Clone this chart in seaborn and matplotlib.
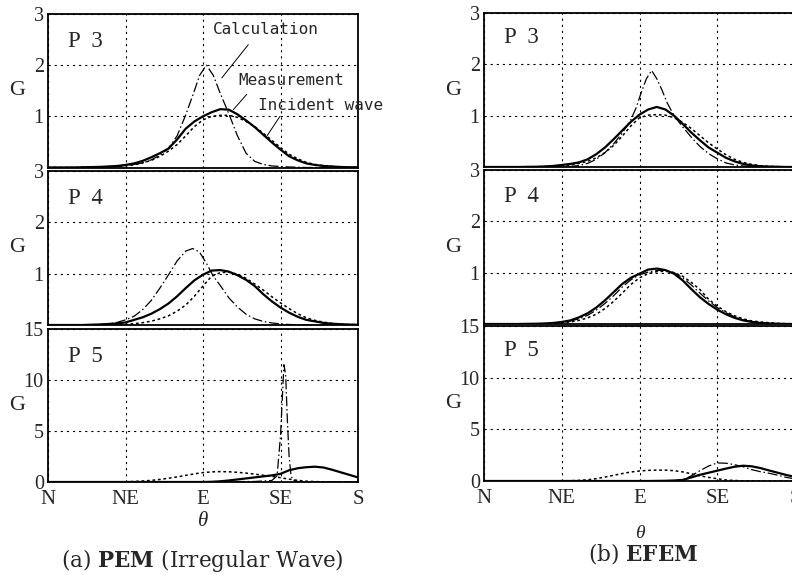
import numpy as np
import pandas as pd
import matplotlib
matplotlib.use("Agg")
import matplotlib.pyplot as plt
import seaborn as sns

sns.set_style("white")
plt.rcParams['font.family'] = ['Liberation Serif', 'DejaVu Serif']
plt.rcParams['mathtext.fontset'] = 'custom'
plt.rcParams['mathtext.rm'] = 'DejaVu Serif'
plt.rcParams['mathtext.bf'] = 'DejaVu Serif:bold'
plt.rcParams['mathtext.it'] = 'DejaVu Serif:italic'

# ---------------- data: (direction in degrees N=0..S=180, G) ----------------
dir_ticks = [0, 45, 90, 135, 180]
dir_labels = ["N", "NE", "E", "SE", "S"]

# (a) PEM, P3
calc_p3a = [(0, 0), (30, 0.005), (40, 0.02), (50, 0.06), (55, 0.09), (60, 0.15), (65, 0.24), (70, 0.38),
            (75, 0.62), (80, 1.03), (85, 1.5), (88, 1.8), (92, 2.0), (96, 1.8), (100, 1.45), (105, 1.05),
            (110, 0.62), (115, 0.28), (120, 0.12), (125, 0.06), (130, 0.03), (140, 0.01), (150, 0), (180, 0)]
meas_p3a = [(0, 0), (15, 0), (20, 0.005), (25, 0.008), (30, 0.012), (35, 0.02), (40, 0.03), (45, 0.05),
            (50, 0.08), (55, 0.13), (60, 0.2), (65, 0.28), (70, 0.37), (75, 0.55), (80, 0.76), (85, 0.9),
            (90, 1.0), (95, 1.08), (100, 1.14), (105, 1.13), (110, 1.04), (115, 0.92), (120, 0.79),
            (125, 0.64), (130, 0.49), (135, 0.35), (140, 0.22), (145, 0.14), (150, 0.08), (155, 0.05),
            (160, 0.03), (165, 0.02), (170, 0.01), (175, 0.005), (180, 0.005)]
inc_p3a = [(0, 0), (20, 0), (25, 0.005), (30, 0.01), (35, 0.015), (40, 0.02), (45, 0.035), (50, 0.05),
           (55, 0.09), (60, 0.14), (65, 0.22), (70, 0.32), (75, 0.45), (80, 0.62), (85, 0.8), (90, 0.93),
           (95, 1.0), (100, 1.02), (105, 1.02), (110, 0.98), (115, 0.9), (120, 0.8), (125, 0.67),
           (130, 0.53), (135, 0.39), (140, 0.26), (145, 0.17), (150, 0.1), (155, 0.06), (160, 0.035),
           (165, 0.02), (170, 0.01), (175, 0.005), (180, 0.003)]

# (a) PEM, P4
calc_p4a = [(0, 0), (30, 0.01), (35, 0.02), (40, 0.05), (45, 0.1), (50, 0.17), (55, 0.3), (60, 0.48),
            (65, 0.72), (70, 0.98), (75, 1.25), (80, 1.44), (84, 1.49), (88, 1.42), (92, 1.2), (96, 0.95),
            (100, 0.77), (105, 0.53), (110, 0.35), (115, 0.21), (120, 0.12), (125, 0.07), (130, 0.04),
            (135, 0.02), (140, 0.01), (150, 0), (180, 0)]
meas_p4a = [(0, 0), (20, 0), (25, 0.005), (30, 0.01), (35, 0.02), (40, 0.03), (45, 0.05), (50, 0.1),
            (55, 0.15), (60, 0.22), (65, 0.31), (70, 0.42), (75, 0.56), (80, 0.72), (85, 0.87), (90, 0.98),
            (95, 1.06), (100, 1.07), (105, 1.04), (110, 0.97), (115, 0.88), (120, 0.76), (125, 0.6),
            (130, 0.46), (135, 0.34), (140, 0.24), (145, 0.16), (150, 0.1), (155, 0.07), (160, 0.04),
            (165, 0.025), (170, 0.015), (175, 0.008), (180, 0.005)]
inc_p4a = [(0, 0), (35, 0), (40, 0.005), (45, 0.01), (50, 0.025), (55, 0.045), (60, 0.075), (65, 0.12),
           (70, 0.18), (75, 0.27), (80, 0.39), (85, 0.56), (90, 0.76), (95, 0.95), (100, 1.02), (105, 1.03),
           (110, 0.99), (115, 0.91), (120, 0.8), (125, 0.68), (130, 0.55), (135, 0.43), (140, 0.32),
           (145, 0.22), (150, 0.14), (155, 0.09), (160, 0.055), (165, 0.03), (170, 0.015), (175, 0.008),
           (180, 0.005)]

# (a) PEM, P5
calc_p5a = [(0, 0), (90, 0.02), (120, 0.05), (130, 0.15), (133, 0.6), (135, 4.5), (137, 11.5), (138, 10.5),
            (139, 6.0), (140, 2.5), (141, 0.8), (142, 0.2), (145, 0.05), (150, 0), (180, 0)]
meas_p5a = [(0, 0), (90, 0), (95, 0.02), (100, 0.07), (105, 0.15), (110, 0.25), (115, 0.35), (120, 0.45),
            (125, 0.55), (130, 0.65), (135, 0.8), (140, 1.15), (145, 1.35), (150, 1.45), (155, 1.5),
            (160, 1.42), (165, 1.2), (170, 0.95), (175, 0.7), (180, 0.45)]
inc_p5a = [(0, 0), (40, 0), (45, 0.02), (50, 0.05), (55, 0.1), (60, 0.16), (65, 0.25), (70, 0.37), (75, 0.5),
           (80, 0.65), (85, 0.8), (90, 0.92), (95, 0.99), (100, 1.02), (105, 1.0), (110, 0.95), (115, 0.87),
           (120, 0.77), (125, 0.66), (130, 0.55), (135, 0.42), (140, 0.28), (145, 0.16), (150, 0.08),
           (155, 0.04), (160, 0.02), (165, 0.01), (170, 0.005), (175, 0), (180, 0)]

# (b) EFEM, P3
calc_p3b = [(0, 0), (45, 0.005), (50, 0.01), (55, 0.03), (60, 0.07), (65, 0.15), (70, 0.28), (75, 0.45),
            (80, 0.66), (85, 0.92), (88, 1.15), (91, 1.45), (94, 1.72), (97, 1.88), (100, 1.72), (103, 1.5),
            (106, 1.25), (110, 1.0), (115, 0.78), (120, 0.58), (125, 0.4), (130, 0.26), (135, 0.16),
            (140, 0.08), (145, 0.04), (150, 0.02), (160, 0), (180, 0)]
meas_p3b = [(0, 0), (20, 0), (25, 0.003), (30, 0.005), (35, 0.01), (40, 0.02), (45, 0.04), (50, 0.06),
            (55, 0.09), (60, 0.15), (65, 0.25), (70, 0.38), (75, 0.54), (80, 0.71), (85, 0.88), (90, 1.02),
            (95, 1.12), (100, 1.17), (105, 1.12), (110, 1.0), (115, 0.84), (120, 0.67), (125, 0.52),
            (130, 0.38), (135, 0.28), (140, 0.18), (145, 0.11), (150, 0.06), (155, 0.03), (160, 0.015),
            (165, 0.008), (170, 0.005), (175, 0), (180, 0)]
inc_p3b = [(0, 0), (25, 0), (30, 0.005), (35, 0.01), (40, 0.015), (45, 0.025), (50, 0.04), (55, 0.07),
           (60, 0.11), (65, 0.18), (70, 0.28), (75, 0.42), (80, 0.6), (85, 0.8), (90, 0.96), (95, 1.01),
           (100, 1.02), (105, 1.01), (110, 0.96), (115, 0.87), (120, 0.75), (125, 0.61), (130, 0.47),
           (135, 0.35), (140, 0.24), (145, 0.15), (150, 0.09), (155, 0.05), (160, 0.025), (165, 0.012),
           (170, 0.006), (175, 0), (180, 0)]

# (b) EFEM, P4
calc_p4b = [(0, 0), (25, 0), (30, 0.003), (35, 0.008), (40, 0.015), (45, 0.03), (50, 0.06), (55, 0.1),
            (60, 0.17), (65, 0.27), (70, 0.4), (75, 0.55), (80, 0.72), (85, 0.86), (90, 0.96), (95, 1.01),
            (100, 1.04), (105, 1.05), (110, 1.0), (115, 0.9), (120, 0.76), (125, 0.6), (130, 0.45),
            (135, 0.32), (140, 0.22), (145, 0.14), (150, 0.08), (155, 0.045), (160, 0.025), (165, 0.012),
            (170, 0.006), (175, 0), (180, 0)]
meas_p4b = [(0, 0), (20, 0), (25, 0.003), (30, 0.005), (35, 0.01), (40, 0.02), (45, 0.04), (50, 0.07),
            (55, 0.13), (60, 0.21), (65, 0.32), (70, 0.46), (75, 0.62), (80, 0.78), (85, 0.9), (90, 0.98),
            (95, 1.06), (100, 1.08), (105, 1.05), (110, 0.98), (115, 0.85), (120, 0.68), (125, 0.52),
            (130, 0.39), (135, 0.28), (140, 0.19), (145, 0.12), (150, 0.07), (155, 0.04), (160, 0.02),
            (165, 0.01), (170, 0.005), (175, 0), (180, 0)]
inc_p4b = [(0, 0), (30, 0), (35, 0.005), (40, 0.01), (45, 0.02), (50, 0.04), (55, 0.07), (60, 0.12),
           (65, 0.19), (70, 0.3), (75, 0.44), (80, 0.6), (85, 0.77), (90, 0.9), (95, 0.98), (100, 1.02),
           (105, 1.03), (110, 1.0), (115, 0.93), (120, 0.81), (125, 0.67), (130, 0.48), (135, 0.35),
           (140, 0.24), (145, 0.16), (150, 0.1), (155, 0.06), (160, 0.04), (165, 0.025), (170, 0.012),
           (175, 0.006), (180, 0.004)]

# (b) EFEM, P5
calc_p5b = [(0, 0), (105, 0), (110, 0.02), (115, 0.1), (120, 0.5), (125, 1.0), (130, 1.45), (135, 1.75),
            (140, 1.72), (145, 1.58), (150, 1.38), (155, 1.1), (160, 0.9), (165, 0.75), (170, 0.56),
            (175, 0.35), (180, 0.2)]
meas_p5b = [(0, 0), (95, 0), (100, 0.01), (105, 0.02), (110, 0.05), (115, 0.1), (120, 0.35), (125, 0.6),
            (130, 0.8), (135, 1.0), (140, 1.2), (145, 1.38), (150, 1.48), (155, 1.42), (160, 1.25),
            (165, 1.02), (170, 0.8), (175, 0.58), (180, 0.4)]
inc_p5b = [(0, 0), (40, 0), (45, 0.01), (50, 0.03), (55, 0.06), (60, 0.12), (65, 0.23), (70, 0.38), (75, 0.55),
           (80, 0.72), (85, 0.87), (90, 0.97), (95, 1.03), (100, 1.05), (105, 1.05), (110, 1.0), (115, 0.88),
           (120, 0.7), (125, 0.5), (130, 0.35), (135, 0.22), (140, 0.1), (145, 0.05), (150, 0.02),
           (155, 0.01), (160, 0), (180, 0)]

panel_names = ["P  3", "P  4", "P  5"]
ylims = [3, 3, 15]
yticks_list = [[1, 2, 3], [1, 2, 3], [0, 5, 10, 15]]
captions = ["(a) $\\mathbf{PEM}$ (Irregular Wave)", "(b) $\\mathbf{EFEM}$"]

columns = [
    [(calc_p3a, meas_p3a, inc_p3a), (calc_p4a, meas_p4a, inc_p4a), (calc_p5a, meas_p5a, inc_p5a)],
    [(calc_p3b, meas_p3b, inc_p3b), (calc_p4b, meas_p4b, inc_p4b), (calc_p5b, meas_p5b, inc_p5b)],
]


def to_df(pairs):
    return pd.DataFrame(pairs, columns=["theta", "G"])


# ---------------- layout ----------------
W, H = 792, 575
fig = plt.figure(figsize=(W / 100, H / 100), dpi=100)

col_x = [(48, 358), (484, 795)]
rows_px = [
    [(14, 167.5), (171, 325), (329, 482)],
    [(13, 167), (170, 324), (326, 481)],
]
plabel_y = [[0.82, 0.82, 0.82], [0.84, 0.83, 0.84]]

calc_style = dict(color="black", lw=0.9, linestyle=(0, (8, 2.2, 1.2, 2.2)))
meas_style = dict(color="black", lw=1.6, linestyle="-")
inc_style = dict(color="black", lw=1.1, linestyle=(0, (1.8, 1.8)))

tick_font = dict(family="Liberation Serif", size=14.5)
dir_font = dict(family="Liberation Serif", size=15)

axes = {}
for c in range(2):
    x0, x1 = col_x[c]
    for r in range(3):
        top, bot = rows_px[c][r]
        ax = fig.add_axes([x0 / W, 1 - bot / H, (x1 - x0) / W, (bot - top) / H])
        axes[(c, r)] = ax
        calc, meas, inc = columns[c][r]
        sns.lineplot(data=to_df(inc), x="theta", y="G", ax=ax, **inc_style)
        sns.lineplot(data=to_df(calc), x="theta", y="G", ax=ax, **calc_style)
        sns.lineplot(data=to_df(meas), x="theta", y="G", ax=ax, **meas_style)
        ax.set_xlim(0, 180)
        ax.set_ylim(0, ylims[r])
        ax.set_xticks(dir_ticks)
        ax.set_yticks(yticks_list[r])
        ax.set_yticklabels([str(v) for v in yticks_list[r]], fontdict=tick_font)
        if r == 2:
            ax.set_xticklabels(dir_labels, fontdict=dir_font)
        else:
            ax.set_xticklabels([])
        ax.tick_params(axis="both", length=0)
        ax.tick_params(axis="y", pad=3)
        ax.tick_params(axis="x", pad=6)
        ax.grid(True, color="black", lw=0.8, linestyle=(0, (2, 3.5)))
        for s in ax.spines.values():
            s.set_color("black")
            s.set_linewidth(1.3)
        ax.set_xlabel("")
        ax.set_ylabel("G", rotation=0, fontsize=16, family="Liberation Serif", va="center", ha="center")
        ax.yaxis.set_label_coords(-0.1, 0.5)
        ax.text(0.065, plabel_y[c][r], panel_names[r], transform=ax.transAxes,
                fontsize=16.5, family="Liberation Serif", ha="left", va="center")

# annotations in (a) P3
ax = axes[(0, 0)]
mono = dict(family="DejaVu Sans Mono", size=11.5)
ax.text(95.8, 2.70, "Calculation", ha="left", va="center", fontdict=mono, clip_on=False)
ax.text(110.3, 1.71, "Measurement", ha="left", va="center", fontdict=mono, clip_on=False)
ax.text(122.0, 1.22, "Incident wave", ha="left", va="center", fontdict=mono, clip_on=False)
lead = dict(arrowstyle="-", color="black", lw=0.7, shrinkA=0, shrinkB=0)
ax.annotate("", xy=(100.9, 1.75), xytext=(116.3, 2.40), arrowprops=lead)
ax.annotate("", xy=(107.6, 1.13), xytext=(115.4, 1.43), arrowprops=lead)
ax.annotate("", xy=(127.0, 0.61), xytext=(134.7, 1.00), arrowprops=lead)

# axis titles & captions
fig.text(203 / W, 1 - 521 / H, "θ", fontsize=15, style="italic", family="Liberation Serif", ha="center", va="center")
fig.text(640 / W, 1 - 534 / H, "θ", fontsize=14, style="italic", family="Liberation Serif", ha="center", va="center")
fig.text(202 / W, 1 - 561 / H, captions[0], fontsize=15.5, family="DejaVu Serif", ha="center", va="center")
fig.text(643 / W, 1 - 554 / H, captions[1], fontsize=15.5, family="DejaVu Serif", ha="center", va="center")

fig.savefig("out.png", dpi=100)
